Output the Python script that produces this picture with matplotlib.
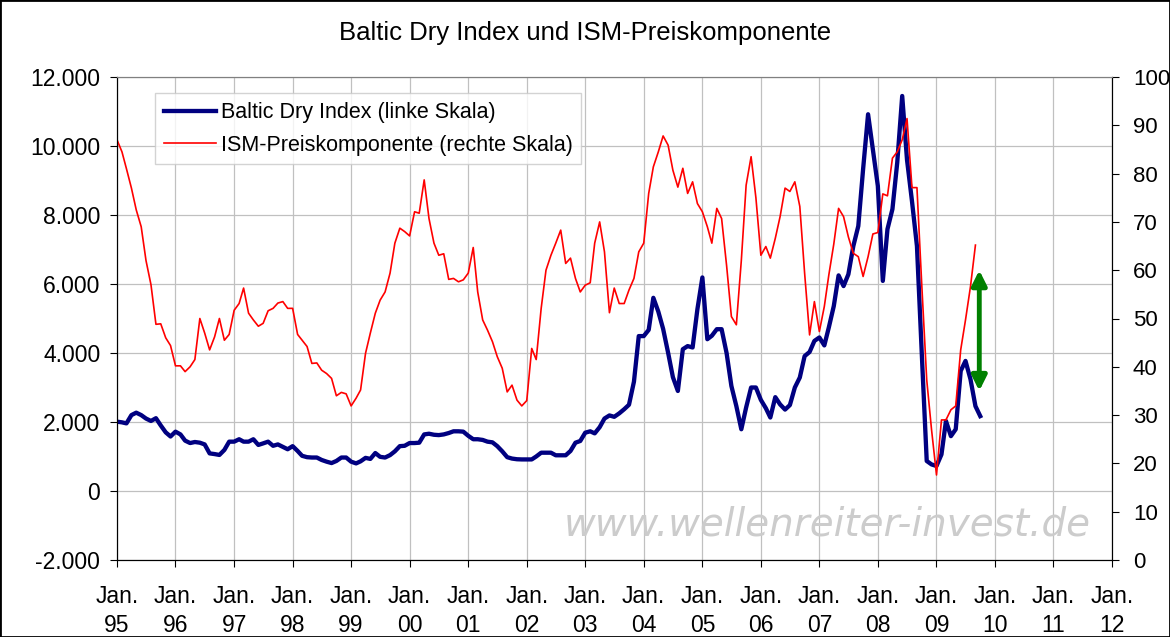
import pandas as pd
import matplotlib
matplotlib.use("Agg")
import matplotlib.pyplot as plt
from matplotlib.ticker import FuncFormatter
from matplotlib.patches import Rectangle

plt.rcParams['font.family'] = ['Liberation Sans', 'DejaVu Sans']

# Baltic Dry Index, monthly from Jan 1995 (left scale)
bdi = [2010, 1990, 1960, 2200, 2270, 2200, 2100, 2030, 2110, 1900, 1700, 1580,
       1720, 1640, 1460, 1390, 1420, 1400, 1350, 1090, 1070, 1045, 1190, 1430,
       1430, 1500, 1430, 1430, 1500, 1335, 1380, 1430, 1310, 1350, 1280, 1210,
       1300, 1160, 1020, 980, 970, 970, 900, 850, 810, 870, 970, 970,
       850, 800, 860, 960, 930, 1100, 990, 970, 1040, 1150, 1300, 1310,
       1390, 1390, 1400, 1640, 1660, 1630, 1620, 1640, 1680, 1730, 1730, 1720,
       1600, 1500, 1500, 1480, 1430, 1410, 1300, 1150, 980, 940, 920, 915,
       915, 915, 1000, 1110, 1110, 1110, 1035, 1035, 1035, 1160, 1400, 1450,
       1690, 1730, 1670, 1850, 2100, 2190, 2150, 2250, 2370, 2500, 3170, 4490,
       4490, 4670, 5600, 5200, 4700, 4010, 3300, 2900, 4110, 4200, 4160, 5270,
       6190, 4400, 4500, 4690, 4690, 4000, 3045, 2460, 1790, 2420, 3000, 3000,
       2640, 2400, 2130, 2720, 2510, 2360, 2490, 3000, 3290, 3910, 4030, 4350,
       4450, 4220, 4740, 5360, 6250, 5940, 6280, 7100, 7680, 9330, 10920, 9900,
       8840, 6090, 7590, 8170, 9520, 11450, 9600, 8400, 7100, 4000, 870, 770,
       725, 1060, 2030, 1590, 1790, 3480, 3770, 3240, 2460, 2170]

# ISM prices paid, monthly from Jan 1995 (right scale)
ism = [87.0, 84.5, 81.0, 77.0, 72.5, 69.0, 62.0, 57.0, 48.8, 48.9, 46.0, 44.4,
       40.2, 40.2, 39.0, 40.0, 41.5, 50.0, 47.0, 43.5, 46.2, 50.0, 45.5, 46.7,
       51.7, 53.1, 56.3, 51.1, 49.7, 48.4, 49.0, 51.6, 52.1, 53.2, 53.5, 52.1,
       52.1, 46.7, 45.5, 44.2, 40.7, 40.8, 39.3, 38.6, 37.6, 34.0, 34.7, 34.4,
       31.9, 33.5, 35.2, 42.8, 47.0, 51.1, 53.8, 55.5, 59.4, 65.6, 68.7, 68.0,
       67.1, 72.1, 71.8, 78.7, 70.7, 65.6, 63.1, 63.4, 58.1, 58.3, 57.6, 58.0,
       59.4, 64.7, 55.5, 49.7, 47.6, 45.2, 42.1, 39.7, 34.8, 36.2, 33.1, 31.9,
       33.0, 43.8, 41.5, 52.1, 60.0, 63.1, 65.6, 68.3, 61.4, 62.5, 58.3, 55.5,
       56.9, 57.4, 65.6, 70.0, 63.8, 51.2, 56.3, 53.1, 53.1, 55.9, 58.3, 63.8,
       65.6, 75.9, 81.4, 84.5, 87.8, 85.9, 80.7, 77.2, 81.1, 75.9, 78.3, 73.8,
       72.1, 69.0, 65.6, 72.8, 70.7, 61.0, 50.4, 48.7, 62.0, 77.6, 83.5, 75.0,
       63.1, 64.9, 62.5, 66.6, 71.1, 77.0, 76.3, 78.3, 73.2, 59.4, 46.6, 53.5,
       47.3, 52.5, 59.0, 65.4, 72.8, 71.1, 66.9, 63.5, 62.8, 58.7, 62.8, 67.5,
       67.8, 75.8, 75.4, 83.2, 84.5, 87.0, 91.4, 77.1, 77.1, 57.0, 37.3, 27.0,
       17.6, 29.0, 29.0, 31.1, 31.9, 43.5, 49.7, 56.6, 65.2]

years = list(range(1995, 2013))
year_labels = ["Jan.\n%02d" % (y % 100) for y in years]

# green double arrow, right scale
arrow_date = pd.Timestamp("2009-09-25")
arrow_top = 60
arrow_bottom = 35

dates_bdi = pd.date_range("1995-01-01", periods=len(bdi), freq="MS")
dates_ism = pd.date_range("1995-01-01", periods=len(ism), freq="MS")

fig = plt.figure(figsize=(11.7, 6.37), dpi=100)
ax = fig.add_axes([0.1, 0.1209, 0.8504, 0.7582])
ax2 = ax.twinx()

l1, = ax.plot(dates_bdi, bdi, color="#000080", lw=3.1, solid_joinstyle="round",
              label="Baltic Dry Index (linke Skala)", zorder=3)
l2, = ax2.plot(dates_ism, ism, color="#ff0000", lw=1.2,
               label="ISM-Preiskomponente (rechte Skala)")

# axes
ax.set_xlim(pd.Timestamp("1995-01-01"), pd.Timestamp("2012-01-01"))
ax.set_xticks([pd.Timestamp(f"{y}-01-01") for y in years])
ax.set_xticklabels(year_labels, linespacing=1.35)
ax.set_ylim(-2000, 12000)
ax.set_yticks(range(-2000, 12001, 2000))
ax.yaxis.set_major_formatter(FuncFormatter(lambda v, p: f"{int(v):,}".replace(",", ".")))
ax2.set_ylim(0, 100)
ax2.set_yticks(range(0, 101, 10))

ax.grid(True, color="#c0c0c0", lw=0.9)
ax.set_axisbelow(True)

for a in (ax, ax2):
    a.spines["top"].set_color("#808080")
    a.spines["left"].set_color("black")
    a.spines["right"].set_color("black")
    a.spines["bottom"].set_color("black")
ax.tick_params(axis="y", direction="out", length=5, pad=7, labelsize=16.5)
ax.tick_params(axis="x", direction="out", length=5, pad=13, labelsize=16.5)
ax2.tick_params(axis="y", direction="out", length=5, pad=10, labelsize=16)

# watermark
ax.text(0.714, 0.073, "www.wellenreiter-invest.de", transform=ax.transAxes,
        ha="center", va="center", fontsize=28, style="italic",
        family="DejaVu Sans", color="#cccccc", zorder=1)

# arrow
ax2.annotate("", xy=(arrow_date, arrow_top), xytext=(arrow_date, arrow_bottom),
             arrowprops=dict(arrowstyle="<|-|>", color="#008000", lw=3.5,
                             mutation_scale=22, shrinkA=0, shrinkB=0))

leg = ax2.legend(handles=[l1, l2], loc="upper left", bbox_to_anchor=(0.0385, 0.966),
                 borderaxespad=0, fontsize=15.5, frameon=True, fancybox=False,
                 edgecolor="#c8c8c8", handlelength=2.4, handletextpad=0.25,
                 labelspacing=0.55, borderpad=0.4)
leg.get_frame().set_linewidth(1)

fig.text(0.5, 0.948, "Baltic Dry Index und ISM-Preiskomponente", ha="center",
         va="center", fontsize=18.5)

fig.patches.append(Rectangle((0, 0), 1, 1, transform=fig.transFigure, fill=False,
                             edgecolor="black", lw=2))

fig.savefig("out.png", dpi=100)
